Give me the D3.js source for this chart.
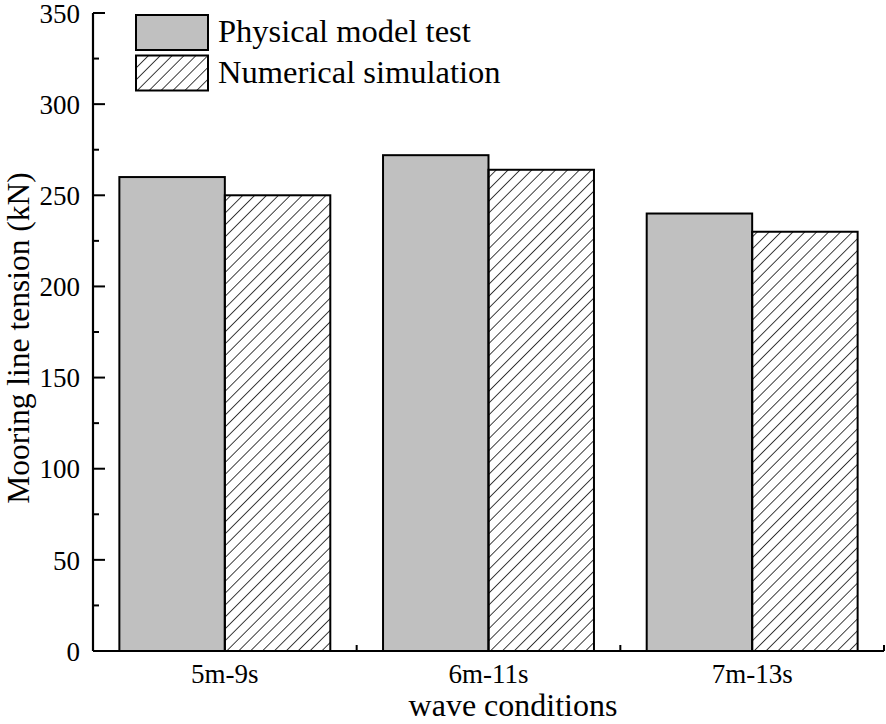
<!DOCTYPE html>
<html>
<head>
<meta charset="utf-8">
<script src="https://cdn.jsdelivr.net/npm/d3@7"></script>
<style>
    body { margin: 0; background: #fff; }
    svg text { font-family: "Liberation Serif", "Times New Roman", serif; fill: #000; }
</style>
</head>
<body>
<svg id="chart" width="886" height="724"></svg>
<script>
// wave conditions on the x axis
const categories = ["5m-9s", "6m-11s", "7m-13s"];
const seriesNames = ["Physical model test", "Numerical simulation"];
// peak mooring line tension in kN
const physical = [260, 272, 240];
const numerical = [250, 264, 230];
const yTicks = [0, 50, 100, 150, 200, 250, 300, 350];

const svg = d3.select("#chart");
const plotLeft = 93, plotRight = 884, plotTop = 13, plotBottom = 651;

// hatch for the numerical bars
svg.append("defs").append("pattern")
    .attr("id", "hatch")
    .attr("patternUnits", "userSpaceOnUse")
    .attr("width", 8.4)
    .attr("height", 8.4)
    .attr("patternTransform", "rotate(45)")
    .append("line")
    .attr("x1", 0).attr("y1", 0)
    .attr("x2", 0).attr("y2", 8.4)
    .attr("stroke", "#000")
    .attr("stroke-width", 1.5);

const x = d3.scaleBand().domain(categories).range([plotLeft, plotRight]).paddingInner(0).paddingOuter(0);
const inner = d3.scaleBand().domain(seriesNames).range([0, x.bandwidth()]).paddingOuter(0.25).paddingInner(0);
const y = d3.scaleLinear().domain([0, 350]).range([plotBottom, plotTop]);

const rows = categories.map((c, i) => ({cat: c, vals: [physical[i], numerical[i]]}));
const fills = ["#c0c0c0", "url(#hatch)"];

svg.append("g").selectAll("g")
    .data(rows)
    .enter()
    .append("g")
    .attr("transform", d => "translate(" + x(d.cat) + ",0)")
    .selectAll("rect")
    .data(d => d.vals.map((v, j) => ({name: seriesNames[j], v: v, j: j})))
    .enter()
    .append("rect")
    .attr("x", d => inner(d.name))
    .attr("width", inner.bandwidth())
    .attr("y", d => y(d.v))
    .attr("height", d => y(0) - y(d.v))
    .attr("fill", d => fills[d.j])
    .attr("stroke", "#000")
    .attr("stroke-width", 2);

// y axis, ticks pointing inwards
const yAxis = svg.append("g").attr("transform", "translate(" + plotLeft + ",0)");
yAxis.append("line")
    .attr("x1", 0).attr("x2", 0)
    .attr("y1", plotTop).attr("y2", plotBottom)
    .attr("stroke", "#000").attr("stroke-width", 2.2);
yAxis.selectAll(".major")
    .data(yTicks)
    .enter()
    .append("line")
    .attr("class", "major")
    .attr("x1", 0).attr("x2", 12)
    .attr("y1", d => y(d)).attr("y2", d => y(d))
    .attr("stroke", "#000").attr("stroke-width", 2);
yAxis.selectAll(".minor")
    .data(yTicks.slice(0, -1).map(d => d + 25))
    .enter()
    .append("line")
    .attr("class", "minor")
    .attr("x1", 0).attr("x2", 6)
    .attr("y1", d => y(d)).attr("y2", d => y(d))
    .attr("stroke", "#000").attr("stroke-width", 2);
yAxis.selectAll("text")
    .data(yTicks)
    .enter()
    .append("text")
    .attr("x", -13)
    .attr("y", d => y(d))
    .attr("dy", "0.36em")
    .attr("text-anchor", "end")
    .style("font-size", "27px")
    .text(d => d);

// x axis, ticks at band edges
const xAxis = svg.append("g");
xAxis.append("line")
    .attr("x1", plotLeft).attr("x2", plotRight)
    .attr("y1", plotBottom).attr("y2", plotBottom)
    .attr("stroke", "#000").attr("stroke-width", 2.2);
xAxis.selectAll(".edge")
    .data(categories.slice(1).map(c => x(c)).concat([plotRight]))
    .enter()
    .append("line")
    .attr("class", "edge")
    .attr("x1", d => d).attr("x2", d => d)
    .attr("y1", plotBottom).attr("y2", plotBottom - 6)
    .attr("stroke", "#000").attr("stroke-width", 2);
xAxis.selectAll("text")
    .data(categories)
    .enter()
    .append("text")
    .attr("x", d => x(d) + x.bandwidth() / 2)
    .attr("y", 683)
    .attr("text-anchor", "middle")
    .style("font-size", "27px")
    .text(d => d);

// axis titles
svg.append("text")
    .attr("transform", "translate(29," + ((plotTop + plotBottom) / 2 + 6) + ") rotate(-90)")
    .attr("text-anchor", "middle")
    .style("font-size", "31.5px")
    .text("Mooring line tension (kN)");

svg.append("text")
    .attr("x", 513)
    .attr("y", 716)
    .attr("text-anchor", "middle")
    .style("font-size", "32px")
    .text("wave conditions");

// legend
const legend = svg.append("g").attr("transform", "translate(136,15)");
const items = legend.selectAll("g")
    .data(seriesNames)
    .enter()
    .append("g")
    .attr("transform", (d, i) => "translate(0," + (i * 40.5) + ")");
items.append("rect")
    .attr("width", 72)
    .attr("height", 35)
    .attr("fill", (d, i) => fills[i])
    .attr("stroke", "#000")
    .attr("stroke-width", 2);
items.append("text")
    .attr("x", 82)
    .attr("y", 27)
    .style("font-size", "32.5px")
    .text(d => d);
</script>
</body>
</html>
